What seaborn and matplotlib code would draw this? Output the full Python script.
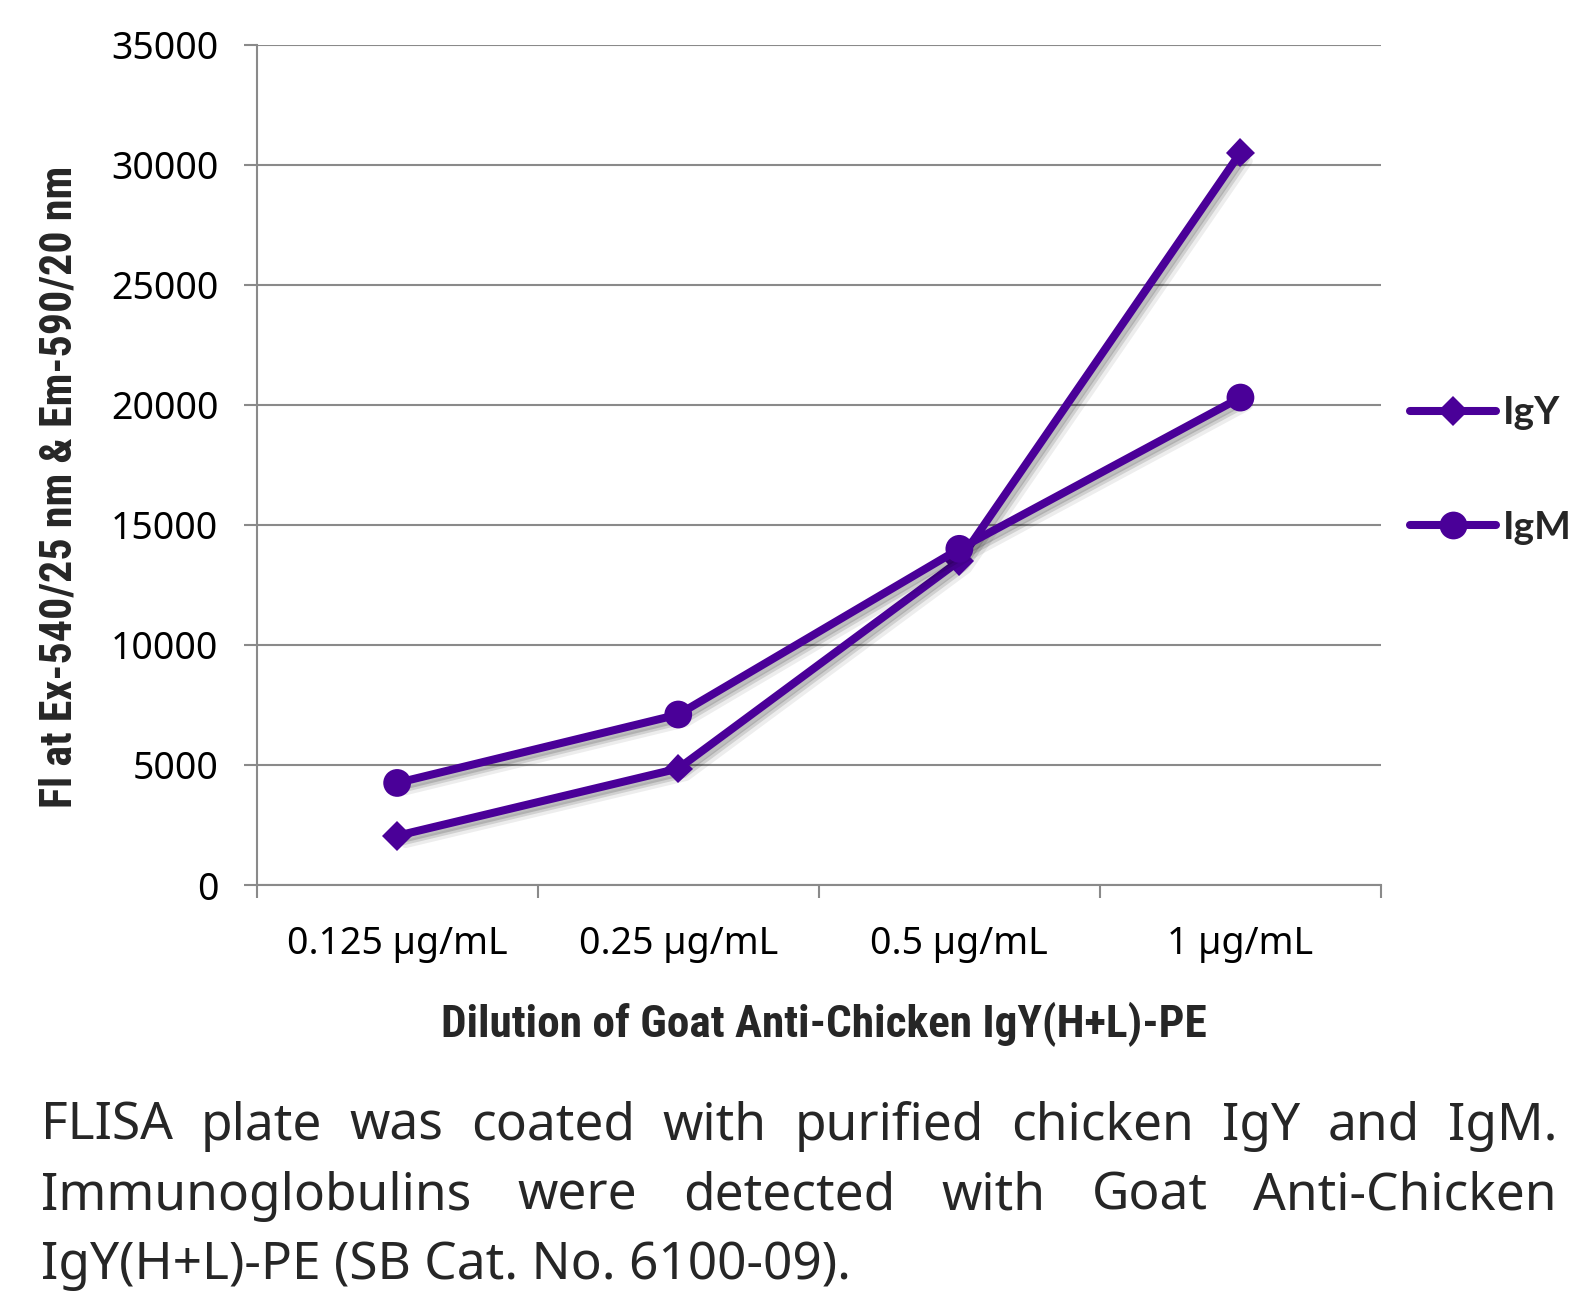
import matplotlib
matplotlib.use("Agg")
import numpy as np
import pandas as pd
import seaborn as sns
import matplotlib.pyplot as plt
import matplotlib.patheffects as pe
from matplotlib.lines import Line2D
from matplotlib.transforms import IdentityTransform

# ---------------- data ----------------
categories = ["0.125 µg/mL", "0.25 µg/mL", "0.5 µg/mL", "1 µg/mL"]
series_names = ["IgY", "IgM"]
igy_values = [2050, 4850, 13500, 30500]
igm_values = [4250, 7100, 14000, 20300]
y_ticks = [0, 5000, 10000, 15000, 20000, 25000, 30000, 35000]
x_title = "Dilution of Goat Anti-Chicken IgY(H+L)-PE"
y_title = "Fl at Ex-540/25 nm & Em-590/20 nm"
caption_lines = [
    "FLISA plate was coated with purified chicken IgY and IgM.",
    "Immunoglobulins were detected with Goat Anti-Chicken",
    "IgY(H+L)-PE (SB Cat. No. 6100-09).",
]

# ---------------- style ----------------
LINE = "#4a0098"
GRID = "#8a8a8a"
series_markers = ["D", "o"]
marker_sizes = [15, 20]
W_PX, H_PX = 1590, 1306

sns.set_theme(style="white")
plt.rcParams["font.family"] = ["Noto Sans", "DejaVu Sans"]
BOLD_NARROW = ["Liberation Sans Narrow", "Roboto Condensed", "Lato", "DejaVu Sans"]
BOLD = ["Lato", "Open Sans", "DejaVu Sans"]

df = pd.DataFrame({
    "dilution": categories * 2,
    "signal": igy_values + igm_values,
    "antibody": [series_names[0]] * len(categories) + [series_names[1]] * len(categories),
})

fig = plt.figure(figsize=(W_PX / 100, H_PX / 100), dpi=100)
fig.patch.set_facecolor("white")
ax_left, ax_right, ax_top, ax_bottom = 256.6, 1381.0, 44.6, 885.0
ax = fig.add_axes([ax_left / W_PX, 1 - ax_bottom / H_PX,
                   (ax_right - ax_left) / W_PX, (ax_bottom - ax_top) / H_PX])

sns.pointplot(data=df, x="dilution", y="signal", hue="antibody",
              order=categories, hue_order=series_names,
              palette=[LINE, LINE], markers=series_markers,
              linestyles=["-", "-"], errorbar=None, legend=False, ax=ax,
              linewidth=5.8, markersize=20, markeredgewidth=0)

shadow = [pe.SimpleLineShadow(offset=(6, -6), shadow_color="black", alpha=0.07),
          pe.SimpleLineShadow(offset=(4, -4), shadow_color="black", alpha=0.12),
          pe.SimpleLineShadow(offset=(2.5, -2.5), shadow_color="black", alpha=0.15),
          pe.Normal()]
for line, ms in zip(ax.lines, marker_sizes):
    line.set_markersize(ms)
    line.set_markeredgewidth(0)
    line.set_linewidth(5.8)
    line.set_path_effects(shadow)
    line.set_zorder(3)

# axes
ax.set_xlim(-0.5, len(categories) - 0.5)
ax.set_ylim(0, 35000)
ax.set_yticks(y_ticks)
ax.set_yticklabels([str(v) for v in y_ticks])
ax.set_xticks(range(len(categories)))
ax.set_xticklabels(categories)
ax.set_xticks(np.arange(len(categories) + 1) - 0.5, minor=True)
ax.grid(axis="y", color=GRID, linewidth=1.5)
ax.grid(axis="x", visible=False)
ax.set_axisbelow(True)
for s in ["top", "right"]:
    ax.spines[s].set_visible(False)
for s in ["left", "bottom"]:
    ax.spines[s].set_color(GRID)
    ax.spines[s].set_linewidth(1.5)
ax.tick_params(axis="y", which="major", left=True, length=9.5, width=1.5,
               color=GRID, pad=18, labelsize=27, labelcolor="black")
ax.tick_params(axis="x", which="major", bottom=True, length=0, pad=29,
               labelsize=27, labelcolor="black")
ax.tick_params(axis="x", which="minor", bottom=True, length=9, width=1.5,
               color=GRID)

ax.set_ylabel(y_title, fontsize=28, fontweight="bold", family=BOLD_NARROW, va="center")
ax.set_xlabel(x_title, fontsize=28, fontweight="bold", family=BOLD_NARROW, va="center")

# legend
handles = [Line2D([], [], color=LINE, lw=5.8, marker=m, ms=ms, mew=0)
           for m, ms in zip(series_markers, marker_sizes)]
ax.legend(handles, series_names, loc="center left",
          bbox_to_anchor=((1410 - ax_left) / (ax_right - ax_left),
                          (ax_bottom - 470) / (ax_bottom - ax_top)),
          frameon=False, borderpad=0, borderaxespad=0,
          handlelength=2.2, handletextpad=0.2, labelspacing=2.05,
          prop={"family": BOLD, "weight": "bold", "size": 28})

# fit axis titles to measured lengths
fig.canvas.draw()
r = fig.canvas.get_renderer()
yl = ax.yaxis.label
yl.set_fontsize(yl.get_fontsize() * 643 / yl.get_window_extent(r).height)
xl = ax.xaxis.label
xl.set_fontsize(xl.get_fontsize() * 766 / xl.get_window_extent(r).width)
ax.yaxis.set_label_coords((59.3 - ax_left) / (ax_right - ax_left),
                          (ax_bottom - 486.7) / (ax_bottom - ax_top))
ax.xaxis.set_label_coords((824 - ax_left) / (ax_right - ax_left),
                          (ax_bottom - 1024) / (ax_bottom - ax_top))

# caption, justified
cap_left, cap_right = 41, 1557
baselines = [1140, 1210, 1279]
tr = IdentityTransform()
t_last = fig.text(cap_left, H_PX - baselines[2], caption_lines[2], fontsize=40,
                  transform=tr, va="baseline", ha="left")
fig.canvas.draw()
fs = 40 * 811 / t_last.get_window_extent(r).width
t_last.set_fontsize(fs)
for line_text, base in zip(caption_lines[:2], baselines[:2]):
    words = line_text.split()
    texts = [fig.text(0, H_PX - base, w, fontsize=fs, transform=tr,
                      va="baseline", ha="left") for w in words]
    fig.canvas.draw()
    widths = [t.get_window_extent(r).width for t in texts]
    gap = (cap_right - cap_left - sum(widths)) / (len(words) - 1)
    x = cap_left
    for t, w in zip(texts, widths):
        t.set_x(x)
        x += w + gap

fig.savefig("out.png", dpi=100)
